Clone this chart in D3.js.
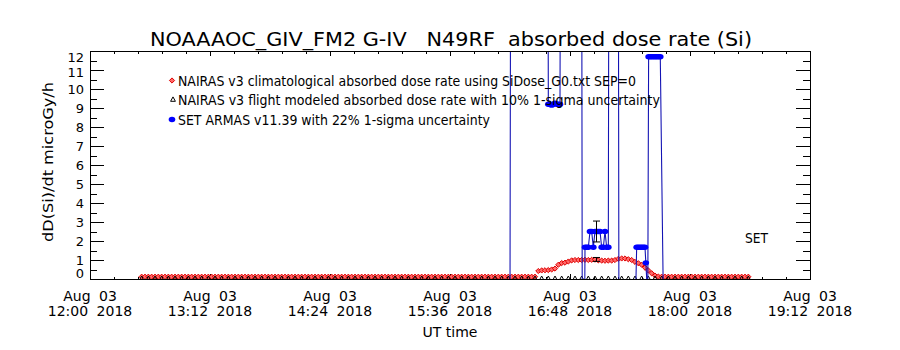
<!DOCTYPE html>
<html><head><meta charset="utf-8">
<script src="https://cdn.jsdelivr.net/npm/d3@7"></script>
<style>
body{margin:0;background:#fff;}
svg{display:block;}
text{font-family:"DejaVu Sans","Liberation Sans",sans-serif;fill:#000;}
</style>
</head><body>
<svg id="chart" width="900" height="350"></svg>
<script>
// ---------------- DATA ----------------
const titleText = "NOAAAOC_GIV_FM2 G-IV   N49RF  absorbed dose rate (Si)";
const xDomain = ["12:00", "19:12"];
const xTickTimes = ["12:00", "13:12", "14:24", "15:36", "16:48", "18:00", "19:12"];
const xTickDate = "Aug 03";
const xTickYear = "2018";
const yTicks = [0, 1, 2, 3, 4, 5, 6, 7, 8, 9, 10, 11, 12];
const yLabel = "dD(Si)/dt microGy/h";
const xLabel = "UT time";
const legendLabels = [
  "NAIRAS v3 climatological absorbed dose rate using SiDose_G0.txt SEP=0",
  "NAIRAS v3 flight modeled absorbed dose rate with 10% 1-sigma uncertainty",
  "SET ARMAS v11.39 with 22% 1-sigma uncertainty"
];
const instrumentLabel = "SET";

// NAIRAS climatological: samples every 2 min starting 12:31
const climStart = "12:31";
const climStepMin = 2;
const climValues = [
  0.12,0.12,0.12,0.12,0.12,0.12,0.12,0.12,0.12,0.12,
  0.12,0.12,0.12,0.12,0.12,0.12,0.12,0.12,0.12,0.12,
  0.12,0.12,0.12,0.12,0.12,0.12,0.12,0.12,0.12,0.12,
  0.12,0.12,0.12,0.12,0.12,0.12,0.12,0.12,0.12,0.12,
  0.12,0.12,0.12,0.12,0.12,0.12,0.12,0.12,0.12,0.12,
  0.12,0.12,0.12,0.12,0.12,0.12,0.12,0.12,0.12,0.12,
  0.12,0.12,0.12,0.12,0.12,0.12,0.12,0.12,0.12,0.12,
  0.12,0.12,0.12,0.12,0.12,0.12,0.12,0.12,0.12,0.12,
  0.12,0.12,0.12,0.12,0.12,0.12,0.12,0.12,0.12,0.12,
  0.12,0.12,0.12,0.12,0.12,0.12,0.12,0.12,0.12,0.12,
  0.12,0.12,0.12,0.12,0.12,0.12,0.12,0.12,0.12,0.12,
  0.12,0.12,0.12,0.12,0.12,0.12,0.12,0.12,0.12,
  0.42,0.45,0.46,0.47,0.5,0.55,0.75,0.84,0.86,0.92,
  0.98,1.0,1.0,1.0,1.01,1.0,1.01,1.02,0.98,0.97,
  0.96,0.97,0.97,1.0,1.06,1.08,1.08,1.04,1.0,0.9,
  0.83,0.75,0.6,0.45,0.3,0.18,0.13,0.12,0.12,0.12,
  0.12,0.12,0.12,0.12,0.12,0.12,0.12,0.12,0.12,0.12,
  0.12,0.12,0.12,0.12,0.12,0.12,0.12,0.12,0.12,0.12,
  0.12,0.12,0.12,0.12
];

// NAIRAS flight modeled: samples every 4 min starting 12:31
const flightStart = "12:31";
const flightStepMin = 4;
const flightValues = [
  0.02,0.02,0.02,0.02,0.02,0.02,0.02,0.02,0.02,0.02,
  0.02,0.02,0.02,0.02,0.02,0.02,0.02,0.02,0.02,0.02,
  0.02,0.02,0.02,0.02,0.02,0.02,0.02,0.02,0.02,0.02,
  0.02,0.02,0.02,0.02,0.02,0.02,0.02,0.02,0.02,0.02,
  0.02,0.02,0.02,0.02,0.02,0.02,0.02,0.02,0.02,0.02,
  0.02,0.02,0.02,0.02,0.02,0.02,0.02,0.02,0.02,0.02,
  0.02,0.02,0.02,0.02,0.02,0.02,0.02,0.02,0.02,0.02,
  0.02,0.02,0.02,0.02,0.02,0.02,0.02,0.02,0.02,0.02,
  0.02,0.02,0.02,0.02,0.02,0.02,0.02,0.02,0.02,0.02,
  0.02,0.02
];
// flight modeled uncertainty bar (10%)
const flightErrTime = "17:03:36";
const flightErrValue = 1.03;
const flightSigma = 0.10;

// SET ARMAS (values of 30 are off scale high, -1 below scale)
const setTimes = [
  "16:12:00","16:12:36","16:34:30","16:35:00","16:36:00","16:37:00","16:38:00","16:39:00",
  "16:40:00","16:41:00","16:42:00","16:42:30","16:54:50","16:55:20","16:56:50","16:57:00",
  "16:58:00","16:59:00","17:00:00","17:01:00","17:02:00","17:03:00","17:04:00","17:05:00",
  "17:06:00","17:07:00","17:08:00","17:09:00","17:10:00","17:11:00","17:11:30","17:16:50",
  "17:17:20","17:27:20","17:28:00","17:29:00","17:30:00","17:31:00","17:32:00","17:33:00",
  "17:33:30","17:34:40","17:35:10","17:36:10","17:37:10","17:38:10","17:39:10","17:40:10",
  "17:41:10","17:42:10","17:44:00"
];
const setValues = [
  -1, 30, 30, 9.2, 9.2, 9.15, 9.2, 9.25,
  9.2, 9.2, 9.2, 30, 30, -1, -1, 1.67,
  1.67, 1.67, 2.5, 2.5, 1.67, 2.5, 2.5, 2.5,
  2.5, 1.67, 1.67, 2.5, 1.67, 1.67, 30, 30,
  -1, -1, 1.67, 1.67, 1.67, 1.67, 1.67, 1.67,
  0.85, -1, 11.7, 11.7, 11.7, 11.7, 11.7, 11.7,
  11.7, 11.7, -1
];
const setSigma = 0.22;
const setErrTime = "17:03:36";
const setErrValue = 2.5;

// ---------------- CHART ----------------
const svg = d3.select("#chart");
const L = 90, R = 810, T = 51, B = 279;

function tm(s) {
  const p = s.split(":").map(Number);
  return new Date(Date.UTC(2018, 7, 3, p[0], p[1], p[2] || 0));
}
const x = d3.scaleUtc().domain(xDomain.map(tm)).range([L, R]);
const y = d3.scaleLinear().domain([0, 12]).range([B, T]);

function series(start, step, values) {
  const t0 = tm(start);
  return values.map((v, i) => ({t: d3.utcMinute.offset(t0, i * step), v}));
}
const clim = series(climStart, climStepMin, climValues);
const flight = series(flightStart, flightStepMin, flightValues);
const setData = setTimes.map((s, i) => ({t: tm(s), v: setValues[i]}));

svg.append("defs").append("clipPath").attr("id", "plotclip")
  .append("rect").attr("x", L).attr("y", T).attr("width", R - L).attr("height", B - T + 0.5);

// axes ticks
const majors = xTickTimes.map(tm);
const minors = [];
for (let i = 0; i < majors.length - 1; i++) {
  for (let k = 1; k < 5; k++) minors.push(new Date(+majors[i] + (majors[i + 1] - majors[i]) * k / 5));
}
const yMinor = d3.range(0.5, 12, 1);

function axisG(axis, tx, ty) {
  const g = svg.append("g").attr("transform", `translate(${tx},${ty})`).call(axis);
  g.select(".domain").remove();
  g.selectAll("line").attr("stroke", "#000").attr("shape-rendering", "crispEdges");
  g.selectAll("text").remove();
  return g;
}
axisG(d3.axisBottom(x).tickValues(majors).tickSize(-5).tickFormat(""), 0, B);
axisG(d3.axisBottom(x).tickValues(minors).tickSize(-2.5).tickFormat(""), 0, B);
axisG(d3.axisTop(x).tickValues(majors).tickSize(-5).tickFormat(""), 0, T);
axisG(d3.axisTop(x).tickValues(minors).tickSize(-2.5).tickFormat(""), 0, T);
axisG(d3.axisLeft(y).tickValues(yTicks).tickSize(-14.4).tickFormat(""), L, 0);
axisG(d3.axisLeft(y).tickValues(yMinor).tickSize(-7.2).tickFormat(""), L, 0);
axisG(d3.axisRight(y).tickValues(yTicks).tickSize(-14.4).tickFormat(""), R, 0);
axisG(d3.axisRight(y).tickValues(yMinor).tickSize(-7.2).tickFormat(""), R, 0);

// x labels
const xl = svg.append("g").attr("font-size", 14).attr("text-anchor", "middle").style("word-spacing", "4px");
majors.forEach((d, i) => {
  xl.append("text").attr("x", x(d)).attr("y", 301).text(xTickDate);
  xl.append("text").attr("x", x(d)).attr("y", 316).text(xTickTimes[i] + " " + xTickYear);
});
svg.append("text").attr("x", 450).attr("y", 337).attr("text-anchor", "middle").attr("font-size", 14)
  .text(xLabel);

// y labels (IDL nudges end labels inward)
const yl = svg.append("g").attr("font-size", 13).attr("text-anchor", "end");
yTicks.forEach(v => {
  let yy = y(v) + 4.8;
  if (v === 12) yy += 6;
  if (v === 11) yy += 2.5;
  if (v === 0) yy -= 5.5;
  yl.append("text").attr("x", 84).attr("y", yy).text(v);
});
svg.append("text").attr("transform", "translate(53,162) rotate(-90)").attr("text-anchor", "middle")
  .attr("font-size", 14).attr("textLength", 160).attr("lengthAdjust", "spacingAndGlyphs").text(yLabel);

// title
svg.append("text").attr("x", 150).attr("y", 46).attr("font-size", 19)
  .attr("textLength", 602).attr("lengthAdjust", "spacingAndGlyphs").style("white-space", "pre")
  .text(titleText);

// marker shapes
const diamond = "M0,-2.6L2.6,0L0,2.6L-2.6,0Z";
const triangle = "M0,-2.6L2.4,1.8L-2.4,1.8Z";

const plot = svg.append("g").attr("clip-path", "url(#plotclip)");

// climatological (red diamonds)
plot.append("g").selectAll("path").data(clim).join("path")
  .attr("d", diamond).attr("transform", d => `translate(${x(d.t)},${y(d.v)})`)
  .attr("fill", "#ff6a6a").attr("stroke", "#e00000").attr("stroke-width", 1);

// flight modeled (black triangles)
plot.append("g").selectAll("path").data(flight).join("path")
  .attr("d", triangle).attr("transform", d => `translate(${x(d.t)},${y(d.v)})`)
  .attr("fill", "none").attr("stroke", "#000").attr("stroke-width", 1);

// SET line + markers
plot.append("path").datum(setData)
  .attr("d", d3.line().x(d => x(d.t)).y(d => y(d.v)))
  .attr("fill", "none").attr("stroke", "#1414b4").attr("stroke-width", 1.1);
plot.append("g").selectAll("ellipse").data(setData.filter(d => d.v >= 0 && d.v <= 12)).join("ellipse")
  .attr("cx", d => x(d.t)).attr("cy", d => y(d.v)).attr("rx", 3.3).attr("ry", 2.7)
  .attr("fill", "#0000ff");

// error bars
function errBar(t, v, s) {
  const cx = Math.round(x(t)) + 0.5, y1 = y(v * (1 + s)), y2 = y(v * (1 - s));
  const g = plot.append("g").attr("stroke", "#000").attr("stroke-width", 1);
  g.append("line").attr("x1", cx).attr("x2", cx).attr("y1", y1).attr("y2", y2);
  g.append("line").attr("x1", cx - 3.5).attr("x2", cx + 3.5).attr("y1", y1).attr("y2", y1);
  g.append("line").attr("x1", cx - 3.5).attr("x2", cx + 3.5).attr("y1", y2).attr("y2", y2);
}
errBar(tm(flightErrTime), flightErrValue, flightSigma);
errBar(tm(setErrTime), setErrValue, setSigma);

// frame
svg.append("rect").attr("x", L + 0.5).attr("y", T + 0.5).attr("width", R - L).attr("height", B - T)
  .attr("fill", "none").attr("stroke", "#000").attr("shape-rendering", "crispEdges");

// SET label
svg.append("text").attr("x", 745).attr("y", 243).attr("font-size", 14)
  .attr("textLength", 23).attr("lengthAdjust", "spacingAndGlyphs").text(instrumentLabel);

// legend
const legY = [80.5, 99.5, 119.5];
const legLen = [458, 482, 312];
const lg = svg.append("g");
lg.append("path").attr("d", diamond).attr("transform", `translate(172,${legY[0]})`)
  .attr("fill", "#ff6a6a").attr("stroke", "#e00000");
lg.append("path").attr("d", triangle).attr("transform", `translate(173,${legY[1]})`)
  .attr("fill", "none").attr("stroke", "#000");
lg.append("ellipse").attr("cx", 172).attr("cy", legY[2]).attr("rx", 3.3).attr("ry", 2.7).attr("fill", "#0000ff");
legendLabels.forEach((s, i) => {
  lg.append("text").attr("x", 178).attr("y", legY[i] + 5).attr("font-size", 13.5)
    .attr("textLength", legLen[i]).attr("lengthAdjust", "spacingAndGlyphs").text(s);
});
</script>
</body></html>
